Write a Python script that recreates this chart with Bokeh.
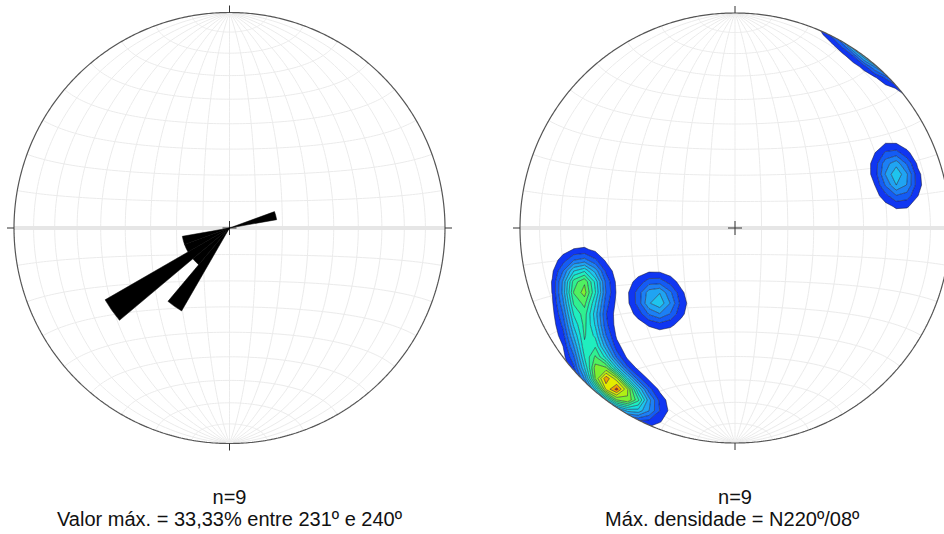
import numpy as np
from bokeh.plotting import figure
from bokeh.models import Range1d
from bokeh.embed import file_html
from bokeh.resources import INLINE
from bokeh.core.properties import value

# ---------------- data ----------------
# Rose diagram (left net): 10-degree classes (start azimuth of class) and frequency (%)
rose_class_start = [70, 210, 220, 230, 240, 250]
rose_percent = [11.11, 22.22, 11.11, 33.33, 11.11, 11.11]
rose_scale_percent = 50.0  # percentage reaching the primitive circle

# Poles (right net): trend / plunge in degrees
pole_trend = [248, 250, 238, 229, 220, 218, 211, 227, 72]
pole_plunge = [22, 28, 18, 13, 8, 7, 8, 49, 22]

left_labels = ["n=9", "Valor máx. = 33,33% entre 231º e 240º"]
right_labels = ["n=9", "Máx. densidade  = N220º/08º"]

palette = ["#1036f2", "#145cf5", "#1c80f5", "#20a4f2", "#1ec4ee", "#18dede",
           "#20eebe", "#30f090", "#50f060", "#7ef030", "#b0f014", "#e4ec00",
           "#f0a000", "#d83000"]

# ---------------- layout ----------------
W, H = 944, 534
def Y(sy):
    return H - sy

LCX, LCY, LR = 229.0, Y(227.5), 215.5
RCX, RCY, RR = 734.5, Y(227.5), 215.0

p = figure(width=W, height=H, output_backend="svg", toolbar_location=None,
           x_range=Range1d(0, W), y_range=Range1d(0, H),
           x_axis_location=None, y_axis_location=None, min_border=0)
p.grid.visible = False
p.outline_line_color = None
p.background_fill_color = "white"
p.border_fill_color = "white"


def proj(e, n, d):
    k = 1.0 / np.sqrt(1.0 + d)
    return e * k, n * k


def net_lines():
    lines = []
    th = np.linspace(0, np.pi, 121)
    for dip in range(10, 91, 10):
        dr = np.radians(dip)
        for side in (1, -1):
            e = side * np.sin(th) * np.cos(dr)
            n = np.cos(th)
            d = np.sin(th) * np.sin(dr)
            lines.append(proj(e, n, d))
            if dip == 90:
                break
    for a in range(10, 90, 10):
        ar = np.radians(a)
        for s in (1, -1):
            e = np.sin(ar) * np.cos(th)
            n = s * np.cos(ar) * np.ones_like(th)
            d = np.sin(ar) * np.sin(th)
            lines.append(proj(e, n, d))
    return lines


grid = net_lines()
for cx, cy, R in [(LCX, LCY, LR), (RCX, RCY, RR)]:
    xs = [list(cx + R * gx) for gx, gy in grid]
    ys = [list(cy + R * gy) for gx, gy in grid]
    p.multi_line(xs, ys, line_color="#ebebeb", line_width=1)
    p.line([cx - R, cx + R], [cy, cy], line_color="#e6e6e6", line_width=4)

# ---------------- density (right net) ----------------
tr = np.radians(pole_trend)
pl = np.radians(pole_plunge)
pe = np.cos(pl) * np.sin(tr)
pn = np.cos(pl) * np.cos(tr)
pd = np.sin(pl)

u = np.arange(-22, 23) / 20.0
U, V = np.meshgrid(u, u)
rho = np.sqrt(U ** 2 + V ** 2)
c = 2 * np.arcsin(np.clip(rho / np.sqrt(2), 0, 1))
h = np.sin(c)
with np.errstate(invalid="ignore", divide="ignore"):
    ge = np.where(rho > 0, h * U / rho, 0.0)
    gn = np.where(rho > 0, h * V / rho, 0.0)
gd = np.cos(c)
kappa = 1.0 / np.radians(5.6) ** 2
z = np.zeros_like(U)
for a, b, cc in zip(pe, pn, pd):
    dot = np.abs(ge * a + gn * b + gd * cc)
    z += np.exp(kappa * (dot - 1.0))
z[rho > 1.08] = 0.0

zmax = z[rho <= 1.0].max()
step = zmax / 14.4
levels = list(step * np.arange(1, 16))
p.contour(x=RCX + RR * u, y=RCY + RR * u, z=z, levels=levels,
          fill_color=palette, line_color="#101030", line_width=0.6, line_alpha=0.85)

# mask outside the right primitive circle
t = np.linspace(0, 2 * np.pi, 721)
hole_x = list(RCX + RR * np.cos(t))
hole_y = list(RCY + RR * np.sin(t))
ox = [480, 1010, 1010, 480]
oy = [-40, -40, 580, 580]
p.multi_polygons(xs=[[[ox, hole_x]]], ys=[[[oy, hole_y]]], fill_color="white", line_color=None)

# primitive circles, ticks, centre crosses
for cx, cy, R in [(LCX, LCY, LR), (RCX, RCY, RR)]:
    p.line(list(cx + R * np.cos(t)), list(cy + R * np.sin(t)), line_color="#555555", line_width=1.2)
    p.segment(x0=[cx, cx, cx + R, cx - R], y0=[cy + R, cy - R, cy, cy],
              x1=[cx, cx, cx + R + 7, cx - R - 7], y1=[cy + R + 7, cy - R - 7, cy, cy],
              line_color="#333333", line_width=1)
    p.segment(x0=[cx - 7, cx], y0=[cy, cy - 7], x1=[cx + 7, cx], y1=[cy, cy + 7],
              line_color="#333333", line_width=1)

# ---------------- rose (left net) ----------------
starts = np.array(rose_class_start, dtype=float)
ends = starts + 10
radii = np.array(rose_percent) / rose_scale_percent * LR
p.wedge(x=[LCX] * len(starts), y=[LCY] * len(starts), radius=list(radii),
        start_angle=list(np.radians(90 - ends)), end_angle=list(np.radians(90 - starts)),
        fill_color="black", line_color="black", line_width=0.5)

# ---------------- texts ----------------
for cx, labels in [(LCX, left_labels), (RCX, right_labels)]:
    p.text(x=[cx, cx], y=[Y(496), Y(518)], text=labels, text_align="center",
           text_baseline="middle", text_font=value("Liberation Sans"),
           text_font_size="20px", text_color="#111111")

open("out.html", "w").write(file_html(p, INLINE))
